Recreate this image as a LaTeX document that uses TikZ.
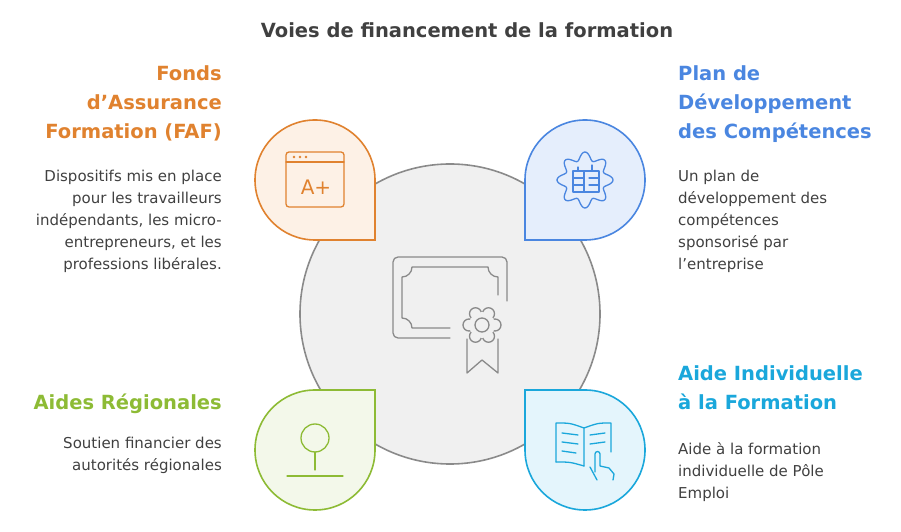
\documentclass[tikz,border=0pt]{standalone}
\usepackage{fontspec}
\setmainfont{DejaVu Sans}
\definecolor{faf}{HTML}{E0822F}
\definecolor{fafbg}{HTML}{FDF1E6}
\definecolor{pdc}{HTML}{4A86E0}
\definecolor{pdcbg}{HTML}{E5EEFC}
\definecolor{aid}{HTML}{8DBB35}
\definecolor{aidbg}{HTML}{F3F8EA}
\definecolor{aif}{HTML}{1AA7DB}
\definecolor{aifbg}{HTML}{E4F5FC}
\definecolor{hub}{HTML}{8A8A8A}
\definecolor{hubbg}{HTML}{F0F0F0}
\definecolor{txt}{HTML}{404040}
\tikzset{
  petal/.style={line width=1.6pt},
  icon/.style={line width=1.3pt,line cap=round,line join=round},
  heading/.style={font=\bfseries\fontsize{19.5}{29}\selectfont,inner sep=0pt},
  body/.style={font=\fontsize{15}{22}\selectfont,text=txt,inner sep=0pt}
}
\begin{document}
\begin{tikzpicture}[x=1pt,y=1pt]
  \useasboundingbox (0,0) rectangle (901,532);
  \node[font=\bfseries\fontsize{19.5}{24}\selectfont,text=txt] (title) at (467,502) {Voies de financement de la formation};

  % hub
  \draw[hub,fill=hubbg,line width=1.6pt] (450,218) circle[radius=150];
  \begin{scope}[hub,icon]
    \draw (450,194) -- (398,194) arc[start angle=-90,end angle=-180,radius=5] -- (393,270)
      arc[start angle=180,end angle=90,radius=5] -- (502,275) arc[start angle=90,end angle=0,radius=5] -- (507,231);
    \draw (450,204) -- (412,204) arc[start angle=0,end angle=90,radius=10] -- (402,255)
      arc[start angle=-90,end angle=0,radius=10] -- (488,265) arc[start angle=180,end angle=270,radius=10] -- (498,237);
    \foreach \a in {0,60,...,300}
      \draw (482,207) ++(\a:13) circle[radius=6];
    \fill[hubbg] (482,207) circle[radius=13];
    \draw (482,207) circle[radius=7];
    \draw (467,193) -- (467,159) -- (482,172) -- (498,159) -- (498,193);
  \end{scope}

  % petals
  \draw[petal,faf,fill=fafbg] (375,352) -- (375,292) -- (315,292)
    arc[start angle=-90,end angle=-360,radius=60] -- cycle;
  \draw[petal,pdc,fill=pdcbg] (525,352) -- (525,292) -- (585,292)
    arc[start angle=-90,end angle=180,radius=60] -- cycle;
  \draw[petal,aid,fill=aidbg] (375,82) -- (375,142) -- (315,142)
    arc[start angle=90,end angle=360,radius=60] -- cycle;
  \draw[petal,aif,fill=aifbg] (525,82) -- (525,142) -- (585,142)
    arc[start angle=90,end angle=-180,radius=60] -- cycle;

  % icons
  \begin{scope}[faf,icon]
    \draw[rounded corners=3pt] (286,325) rectangle (344,380);
    \draw (286,370) -- (344,370);
    \foreach \x in {294,300,306} \fill (\x,375) circle[radius=1.3];
    \node[font=\fontsize{20}{20}\selectfont,text=faf] (aplus) at (316,345) {A+};
  \end{scope}
  \begin{scope}[pdc,icon]
    \draw[shift={(585,352)}] plot[domain=0:360,samples=120,smooth] (\x:{24+4*cos(8*\x)});
    \draw (573,340) rectangle (599,361);
    \draw (584,340) -- (584,361) (578,361) -- (578,365);
    \draw (573,354) -- (584,354) (573,347) -- (584,347) (589,354) -- (599,354) (589,347) -- (599,347);
    \draw (592,361) -- (592,367);
  \end{scope}
  \begin{scope}[aid,icon]
    \draw (315,94) circle[radius=14];
    \draw (315,80) -- (315,62);
    \draw (287,56) -- (343,56);
  \end{scope}
  \begin{scope}[aif,icon]
    \draw (584,66) -- (584,104) (556,70) -- (556,109) ..controls (570,109) .. (584,104)
      ..controls (598,109) .. (611,109) -- (611,80);
    \draw (556,70) ..controls (570,70) .. (584,66);
    \draw (562,99) -- (578,97) (562,90) -- (578,88) (562,81) -- (576,79)
      (590,97) -- (605,99) (590,88) -- (605,90);
    \draw (590,65) -- (597,52) (595,60) -- (595,78) arc[start angle=180,end angle=0,radius=2.5] -- (600,66)
      -- (609,64) -- (614,58) -- (613,52);
  \end{scope}

  % texts
  \node[heading,faf,align=right,anchor=north east] (fafh) at (222,467) {Fonds\\d’Assurance\\Formation (FAF)};
  \node[body,align=right,anchor=north east] (fafb) at (222,362) {Dispositifs mis en place\\pour les travailleurs\\indépendants, les micro-\\entrepreneurs, et les\\professions libérales.};
  \node[heading,pdc,align=left,anchor=north west] (pdch) at (678,467) {Plan de\\Développement\\des Compétences};
  \node[body,align=left,anchor=north west] (pdcb) at (678,362) {Un plan de\\développement des\\compétences\\sponsorisé par\\l'entreprise};
  \node[heading,aid,align=right,anchor=north east] (aidh) at (222,138) {Aides Régionales};
  \node[body,align=right,anchor=north east] (aidb) at (222,95) {Soutien financier des\\autorités régionales};
  \node[heading,aif,align=left,anchor=north west] (aifh) at (678,167) {Aide Individuelle\\à la Formation};
  \node[body,align=left,anchor=north west] (aifb) at (678,90) {Aide à la formation\\individuelle de Pôle\\Emploi};
\end{tikzpicture}
\end{document}
